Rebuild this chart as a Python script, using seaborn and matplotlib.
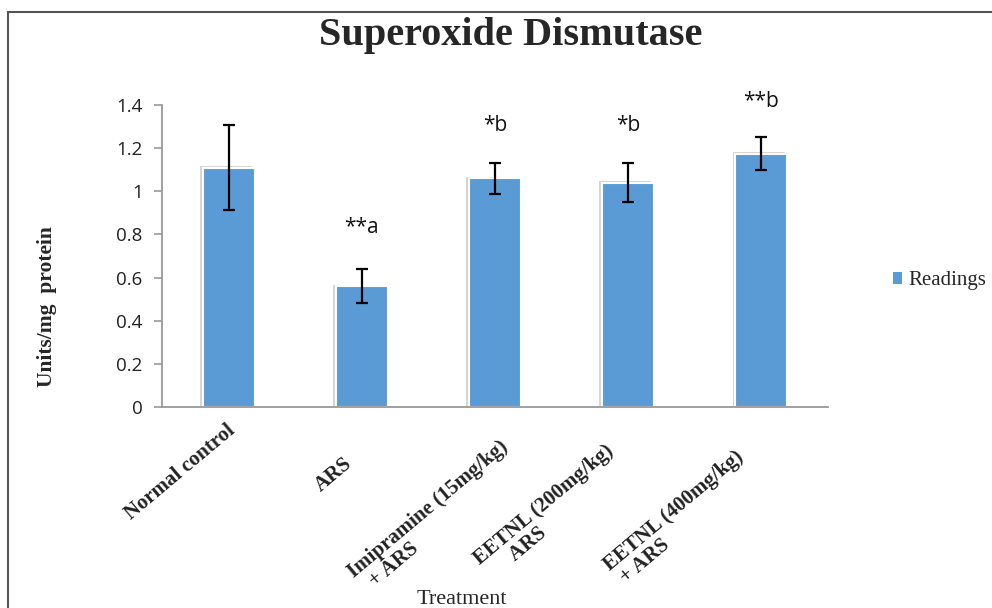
import matplotlib
matplotlib.use("Agg")
import matplotlib.pyplot as plt
import matplotlib.patheffects as pe
import matplotlib.transforms as mtransforms
from matplotlib.patches import Rectangle
import seaborn as sns
import pandas as pd
import numpy as np

categories = ["Normal control", "ARS", "Imipramine (15mg/kg)\n  + ARS",
              "EETNL (200mg/kg)\n      ARS", "EETNL (400mg/kg)\n + ARS"]
values = [1.11, 0.56, 1.06, 1.04, 1.175]
errors = [0.197, 0.08, 0.073, 0.09, 0.075]
annotations = ["", "**a", "*b", "*b", "**b"]
annot_y = [0, 0.83, 1.305, 1.305, 1.415]
yticks = [0, 0.2, 0.4, 0.6, 0.8, 1, 1.2, 1.4]
ytick_labels = ["0", "0.2", "0.4", "0.6", "0.8", "1", "1.2", "1.4"]

# label anchor offsets (pixels) relative to category centre at the axis line
label_dx = [-2, -19, 4, -24, -27]
label_dy = [-14, -47, -30, -34, -40]

BLUE = "#5B9BD5"
SERIF = ["Liberation Serif", "DejaVu Serif"]
SANS = ["Open Sans", "DejaVu Sans"]

sns.set_theme(style="white")
plt.rcParams["font.family"] = SANS

df = pd.DataFrame({"Treatment": categories, "Readings": values})

fig = plt.figure(figsize=(9.92, 6.08), dpi=100)
ax = fig.add_axes([162/992, 1-407/608, (828-162)/992, (407-105)/608])

sns.barplot(data=df, x="Treatment", y="Readings", ax=ax, color=BLUE,
            width=0.39, errorbar=None, saturation=1, edgecolor="white",
            linewidth=1.5, zorder=2)
for p in ax.patches:
    p.set_path_effects([pe.SimplePatchShadow(offset=(-2, 1), shadow_rgbFace="#888888", alpha=0.35),
                        pe.Normal()])

x = np.arange(len(categories))
ax.errorbar(x, values, yerr=errors, fmt="none", ecolor="black", elinewidth=1.6,
            capsize=4, capthick=1.6, zorder=3)

for xi, txt, yy in zip(x, annotations, annot_y):
    if txt:
        ax.text(xi, yy, txt, ha="center", va="center", fontsize=15,
                family=SANS, color="#111111")

ax.set_xlim(-0.5, len(categories) - 0.5)
ax.set_ylim(0, 1.4)
ax.set_yticks(yticks)
ax.set_yticklabels(ytick_labels, fontsize=13.5, color="#222222")
ax.set_xticks(x)
ax.set_xticklabels([])
ax.set_xticks(np.arange(-0.5, len(categories)), minor=True)
ax.tick_params(axis="x", which="major", length=0)
ax.tick_params(axis="x", which="minor", length=6, width=1.2, color="#999999", direction="out")
ax.tick_params(axis="y", length=6, width=1.2, color="#999999", direction="out", pad=8, left=True)
ax.set_xlabel("")
ax.set_ylabel("")
for s in ["top", "right"]:
    ax.spines[s].set_visible(False)
for s in ["left", "bottom"]:
    ax.spines[s].set_color("#999999")
    ax.spines[s].set_linewidth(1.3)

base = mtransforms.blended_transform_factory(ax.transData, ax.transAxes)
for xi, lab, dx, dy in zip(x, categories, label_dx, label_dy):
    tr = base + mtransforms.ScaledTranslation(dx / 100, dy / 100, fig.dpi_scale_trans)
    ax.text(xi, 0, lab, transform=tr, rotation=40, rotation_mode="anchor",
            ha="right", va="top", multialignment="left", fontsize=15,
            fontweight="bold", family=SERIF, color="#222222", clip_on=False,
            linespacing=1.0)

fig.text(511/992, 1-45/608, "Superoxide Dismutase", ha="center", va="baseline",
         fontsize=29, fontweight="bold", family=SERIF)
fig.text(47/992, 1-307/608, "Units/mg  protein", ha="center", va="center",
         rotation=90, fontsize=15.5, fontweight="bold", family=SERIF)
fig.text(462/992, 1-600/608, "Treatment", ha="center", va="center",
         fontsize=16, family=SERIF)

handle = Rectangle((0, 0), 1, 1, facecolor=BLUE, edgecolor="none")
fig.legend([handle], ["Readings"], loc="center left",
           bbox_to_anchor=(874/992, 1-281/608), frameon=False,
           prop={"family": SERIF, "size": 15}, handlelength=0.45, handleheight=0.45,
           handletextpad=0.3)

fig.patches.append(Rectangle((8/992, -0.2), 1.1, 1.2-12/608, transform=fig.transFigure,
                             fill=False, edgecolor="#555555", linewidth=1.5))

fig.savefig("out.png", dpi=100)
